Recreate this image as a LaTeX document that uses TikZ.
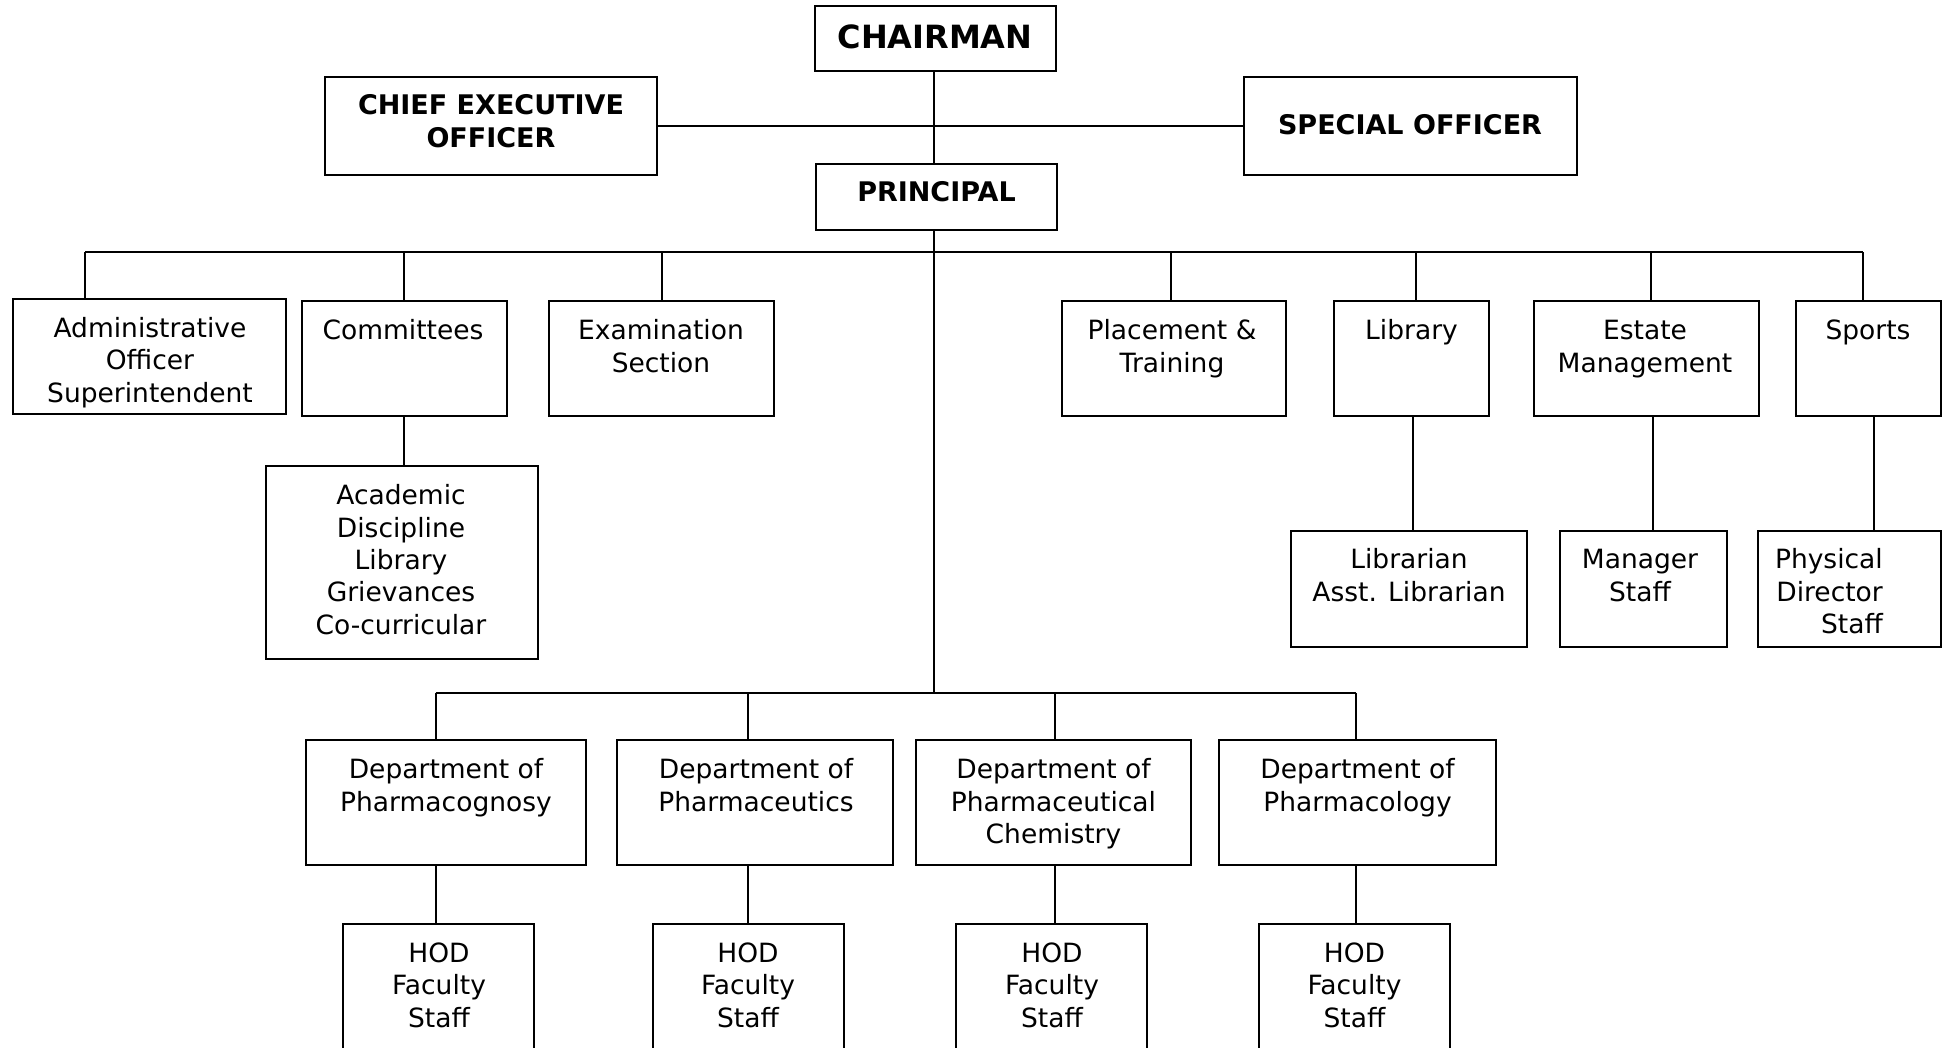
\documentclass[tikz,border=0pt]{standalone}
\usepackage{fontspec}
\setmainfont{DejaVu Sans}
\newcommand\tstrut{\rule{0pt}{21pt}}
\begin{document}
\begin{tikzpicture}[x=1pt,y=-1pt,
  box/.style={draw, line width=2pt, inner sep=0pt, outer sep=0pt, rectangle},
  txt/.style={font=\fontsize{26.5}{32.3}\selectfont, align=center, inner sep=0pt, anchor=north, yshift=11.3pt},
  hdr/.style={font=\bfseries\fontsize{27}{33}\selectfont, align=center, inner sep=0pt},
  conn/.style={line width=2pt},
  bus/.style={line width=2.3pt}]
\useasboundingbox (0,0) rectangle (1945,1047);
\clip (0,0) rectangle (1945,1047);
\newcommand\mkbox[5]{\node[box, anchor=north west, minimum width={(#4-#2)*1pt}, minimum height={(#5-#3)*1pt}] (#1) at (#2,#3) {};}
% boxes
\mkbox{chair}{815}{6}{1056}{71}
\mkbox{ceo}{325}{77}{657}{175}
\mkbox{spec}{1244}{77}{1577}{175}
\mkbox{princ}{816}{164}{1057}{230}
\mkbox{admin}{13}{299}{286}{414}
\mkbox{comm}{302}{301}{507}{416}
\mkbox{exam}{549}{301}{774}{416}
\mkbox{place}{1062}{301}{1286}{416}
\mkbox{lib}{1334}{301}{1489}{416}
\mkbox{estate}{1534}{301}{1759}{416}
\mkbox{sports}{1796}{301}{1941}{416}
\mkbox{acad}{266}{466}{538}{659}
\mkbox{libn}{1291}{531}{1527}{647}
\mkbox{mgr}{1560}{531}{1727}{647}
\mkbox{phys}{1758}{531}{1941}{647}
\mkbox{d1}{306}{740}{586}{865}
\mkbox{d2}{617}{740}{893}{865}
\mkbox{d3}{916}{740}{1191}{865}
\mkbox{d4}{1219}{740}{1496}{865}
\mkbox{h1}{343}{924}{534}{1070}
\mkbox{h2}{653}{924}{844}{1070}
\mkbox{h3}{956}{924}{1147}{1070}
\mkbox{h4}{1259}{924}{1450}{1070}
% headings
\node[hdr, font=\bfseries\fontsize{32}{33}\selectfont] (chair-t) at (935,37) {CHAIRMAN};
\node[hdr] (ceo-t) at (491,121.5) {CHIEF EXECUTIVE\\OFFICER};
\node[hdr] (spec-t) at (1410,125) {SPECIAL OFFICER};
\node[hdr] (princ-t) at (936.5,192) {PRINCIPAL};
% texts
\node[txt] (admin-t) at (150,327.5) {\tstrut Administrative\\Officer\\Superintendent};
\node[txt] (comm-t) at (403,330) {\tstrut Committees};
\node[txt] (exam-t) at (661,330) {\tstrut Examination\\Section};
\node[txt] (place-t) at (1172,330) {\tstrut Placement \&\\Training};
\node[txt] (lib-t) at (1411.5,330) {\tstrut Library};
\node[txt] (estate-t) at (1645,330) {\tstrut Estate\\Management};
\node[txt] (sports-t) at (1868,330) {\tstrut Sports};
\node[txt] (acad-t) at (401,495) {\tstrut Academic\\Discipline\\Library\\Grievances\\Co-curricular};
\node[txt] (libn-t) at (1409,559) {\tstrut Librarian\\Asst. Librarian};
\node[txt] (mgr-t) at (1640,559) {\tstrut Manager\\Staff};
\node[txt, align=right, anchor=north east] (phys-t) at (1883,559) {\tstrut Physical\\Director\\Staff};
\node[txt] (d1-t) at (446,769) {\tstrut Department of\\Pharmacognosy};
\node[txt] (d2-t) at (756,769) {\tstrut Department of\\Pharmaceutics};
\node[txt] (d3-t) at (1053.5,769) {\tstrut Department of\\Pharmaceutical\\Chemistry};
\node[txt] (d4-t) at (1357.5,769) {\tstrut Department of\\Pharmacology};
\node[txt] (h1-t) at (439,952.6) {\tstrut HOD\\Faculty\\Staff};
\node[txt] (h2-t) at (748,952.6) {\tstrut HOD\\Faculty\\Staff};
\node[txt] (h3-t) at (1052,952.6) {\tstrut HOD\\Faculty\\Staff};
\node[txt] (h4-t) at (1354.5,952.6) {\tstrut HOD\\Faculty\\Staff};
% coordinates
\coordinate (pv) at (934,252);
\coordinate (tA) at (85,252);
\coordinate (tC) at (404,252);
\coordinate (tE) at (662,252);
\coordinate (tP) at (1171,252);
\coordinate (tL) at (1416,252);
\coordinate (tM) at (1651,252);
\coordinate (tS) at (1863,252);
\coordinate (db) at (934,692.8);
\coordinate (b1) at (435.6,692.8);
\coordinate (b2) at (748,692.8);
\coordinate (b3) at (1055,692.8);
\coordinate (b4) at (1355.6,692.8);
% connectors
\draw[conn] (pv |- chair.south) -- (pv |- princ.north);
\draw[conn] (ceo.east) -- (spec.west);
\draw[conn] (pv |- princ.south) -- (db);
\draw[bus] (tA) -- (tS);
\draw[conn] (tA) -- (tA |- admin.north);
\draw[conn] (tC) -- (tC |- comm.north);
\draw[conn] (tE) -- (tE |- exam.north);
\draw[conn] (tP) -- (tP |- place.north);
\draw[conn] (tL) -- (tL |- lib.north);
\draw[conn] (tM) -- (tM |- estate.north);
\draw[conn] (tS) -- (tS |- sports.north);
\draw[conn] (tC |- comm.south) -- (tC |- acad.north);
\draw[conn] ([xshift=-3pt]tL |- lib.south) -- ([xshift=-3pt]tL |- libn.north);
\draw[conn] ([xshift=1.5pt]tM |- estate.south) -- ([xshift=1.5pt]tM |- mgr.north);
\draw[conn] ([xshift=11pt]tS |- sports.south) -- ([xshift=11pt]tS |- phys.north);
\draw[bus] (b1) -- (b4);
\draw[conn] (b1) -- (b1 |- d1.north);
\draw[conn] (b2) -- (b2 |- d2.north);
\draw[conn] (b3) -- (b3 |- d3.north);
\draw[conn] (b4) -- (b4 |- d4.north);
\draw[conn] (b1 |- d1.south) -- (b1 |- h1.north);
\draw[conn] (b2 |- d2.south) -- (b2 |- h2.north);
\draw[conn] (b3 |- d3.south) -- (b3 |- h3.north);
\draw[conn] (b4 |- d4.south) -- (b4 |- h4.north);
\end{tikzpicture}
\end{document}
